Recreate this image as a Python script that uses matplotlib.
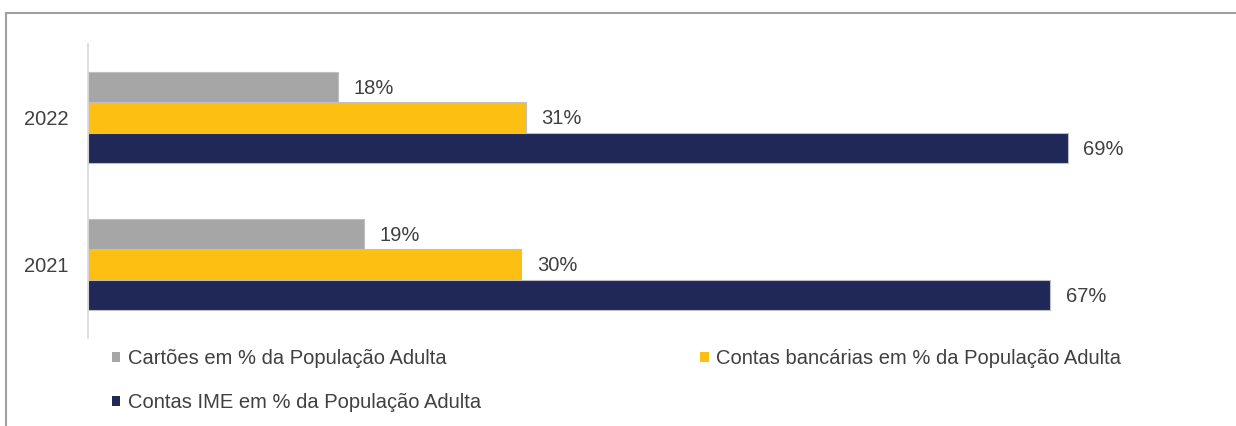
import matplotlib
matplotlib.use("Agg")
import matplotlib.pyplot as plt
from matplotlib.lines import Line2D
import numpy as np

plt.rcParams['font.family'] = ['Liberation Sans', 'DejaVu Sans']

years = ["2021", "2022"]
series_names = ["Cartões em % da População Adulta",
                "Contas bancárias em % da População Adulta",
                "Contas IME em % da População Adulta"]
cartoes = [19.3, 17.5]
bancarias = [30.3, 30.6]
ime = [67.3, 68.5]
cartoes_lbl = ["19%", "18%"]
bancarias_lbl = ["30%", "31%"]
ime_lbl = ["67%", "69%"]

colors = ["#a6a6a6", "#fdbf11", "#1f2857"]
FS = 14.5

W, H = 1236, 426
fig = plt.figure(figsize=(W / 100, H / 100), dpi=100)
ax = fig.add_axes([88 / W, 1 - 338 / H, (1232 - 88) / W, (338 - 44) / H])

y = np.arange(len(years))
h = 0.207
series = [(cartoes, cartoes_lbl), (bancarias, bancarias_lbl), (ime, ime_lbl)]
handles = []
for i, ((vals, lbls), c) in enumerate(zip(series, colors)):
    offs = y + (1 - i) * h
    bars = ax.barh(offs, vals, height=h, color=c, edgecolor="#bfbfbf", linewidth=0.8,
                   label=series_names[i])
    handles.append(bars)
    for v, yy, t in zip(vals, offs, lbls):
        ax.text(v + 1.1, yy - 0.01, t, va="center", ha="left", fontsize=FS, color="#404040")

ax.set_xlim(0, 80)
ax.set_ylim(-0.5, 1.5)
ax.set_yticks(y)
ax.set_yticklabels(years, fontsize=FS, color="#404040")
ax.tick_params(axis="y", length=0, pad=14)
ax.set_xticks([])
for s in ["top", "right", "bottom"]:
    ax.spines[s].set_visible(False)
ax.spines["left"].set_color("#d9d9d9")
ax.spines["left"].set_linewidth(1.2)

order = [0, 2, 1]
leg = fig.legend([handles[k] for k in order], [series_names[k] for k in order],
                 ncol=2, loc="upper left", bbox_to_anchor=(112 / W, 1 - 349 / H),
                 borderaxespad=0, borderpad=0,
                 frameon=False, fontsize=FS, handlelength=0.42, handleheight=0.42,
                 handletextpad=0.35, columnspacing=10.9, labelspacing=1.25,
                 labelcolor="#404040")
for hnd in leg.legend_handles:
    hnd.set_linewidth(0)

# frame border lines
fig.add_artist(Line2D([6 / W, 6 / W], [0, 1 - 13 / H], color="#a0a0a0", lw=1.5))
fig.add_artist(Line2D([6 / W, 1], [1 - 13 / H, 1 - 13 / H], color="#a0a0a0", lw=1.5))

fig.savefig("out.png", dpi=100)
